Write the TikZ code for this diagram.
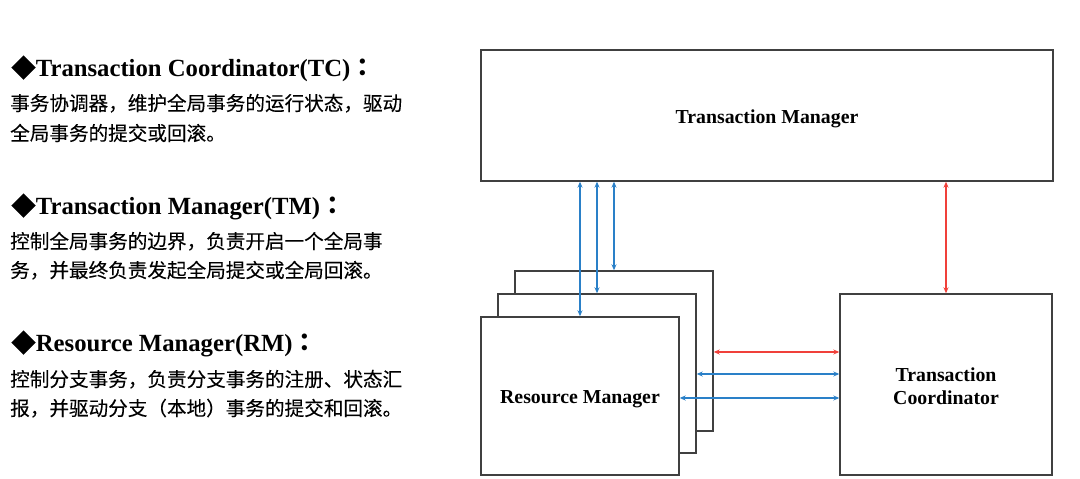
\documentclass[tikz,border=0pt]{standalone}
\usepackage{fontspec}
\setmainfont{Liberation Serif}
\newfontfamily\cjk[FakeBold=0.15]{Noto Sans CJK SC}
\newfontfamily\cjkpunct{Noto Sans CJK JP}
\usetikzlibrary{arrows.meta}
\definecolor{linkblue}{HTML}{2A80C8}
\definecolor{linkred}{HTML}{F0403A}
\definecolor{boxgray}{HTML}{404040}

\begin{document}
\begin{tikzpicture}[x=1pt,y=1pt,
  box/.style={draw=boxgray,line width=1.4pt,fill=white,inner sep=0pt,align=center,
    text height=16pt,text depth=0pt,font=\fontsize{19.8}{23}\selectfont\bfseries},
  bluelink/.style={draw=linkblue,line width=1.6pt,
    {Stealth[length=6pt,width=5pt]}-{Stealth[length=6pt,width=5pt]}},
  redlink/.style={bluelink,draw=linkred},
  title/.style={anchor=base west,inner sep=0pt,font=\fontsize{24.7}{28}\selectfont\bfseries},
  body/.style={anchor=base west,inner sep=0pt,text=black,font=\cjk\fontsize{19.6}{23}\selectfont}]
\useasboundingbox (0,0) rectangle (1080,479);

% left: the three roles
\node [title] (tctitle) at (11,402) {{\cjk ◆}Transaction Coordinator(TC){\cjkpunct ：}};
\node [body] (tcline1) at (10,368.5) {事务协调器，维护全局事务的运行状态，驱动};
\node [body] (tcline2) at (10,338.5) {全局事务的提交或回滚。};

\node [title] (tmtitle) at (11,264) {{\cjk ◆}Transaction Manager(TM){\cjkpunct ：}};
\node [body] (tmline1) at (10,230.5) {控制全局事务的边界，负责开启一个全局事};
\node [body] (tmline2) at (10,201.5) {务，并最终负责发起全局提交或全局回滚。};

\node [title] (rmtitle) at (11,127) {{\cjk ◆}Resource Manager(RM){\cjkpunct ：}};
\node [body] (rmline1) at (10,92.5) {控制分支事务，负责分支事务的注册、状态汇};
\node [body] (rmline2) at (10,63.5) {报，并驱动分支（本地）事务的提交和回滚。};

% right: the boxes
\node [box, minimum width=572, minimum height=131] (tm) at (767,363.5) {Transaction Manager};
\node [box, minimum width=198, minimum height=160] (rmback) at (614,128) {};
\node [box, minimum width=198, minimum height=159] (rmmid) at (597,105.5) {};
\node [box, minimum width=198, minimum height=158] (rmfront) at (580,83) {Resource Manager};
\node [box, minimum width=212, minimum height=181, text height=40pt] (tc) at (946,94.5) {Transaction\\Coordinator};

% links
\draw [bluelink] (rmfront.north |- tm.south) -- (rmfront.north);
\draw [bluelink] (rmmid.north |- tm.south) -- (rmmid.north);
\draw [bluelink] (rmback.north |- tm.south) -- (rmback.north);
\draw [redlink] (tc.north |- tm.south) -- (tc.north);

\coordinate (h1) at ([yshift=32.5pt]tc.west);
\coordinate (h2) at ([yshift=10.5pt]tc.west);
\coordinate (h3) at ([yshift=-13.5pt]tc.west);
\draw [redlink] (h1 -| rmback.east) -- (h1);
\draw [bluelink] (h2 -| rmmid.east) -- (h2);
\draw [bluelink] (h3 -| rmfront.east) -- (h3);
\end{tikzpicture}
\end{document}
